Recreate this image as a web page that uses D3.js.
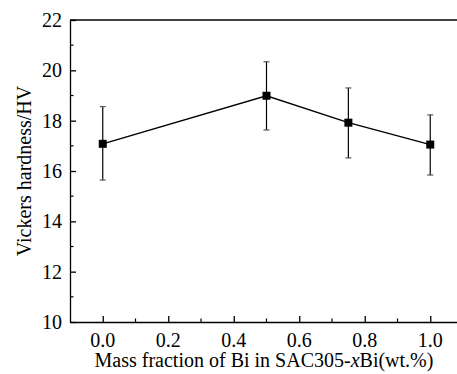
<!DOCTYPE html>
<html>
<head>
<meta charset="utf-8">
<script src="https://cdn.jsdelivr.net/npm/d3@7"></script>
<style>
body { margin: 0; background: #fff; }
svg { display: block; font-family: "Liberation Serif", serif; }
.title { font-size: 20px; fill: #000; }
.tlabel { font-size: 20px; fill: #000; }
</style>
</head>
<body>
<script>
var fraction = [0.0, 0.5, 0.75, 1.0];
var hardness = [17.08, 18.99, 17.92, 17.05];
var errHigh = [18.56, 20.34, 19.30, 18.23];
var errLow = [15.64, 17.63, 16.52, 15.84];
var xTicks = [0.0, 0.2, 0.4, 0.6, 0.8, 1.0];
var yTicks = [10, 12, 14, 16, 18, 20, 22];

var W = 457, H = 374,
    m = {left: 70, top: 20, right: -6, bottom: 52},
    w = W - m.left - m.right,
    h = H - m.top - m.bottom;

var x = d3.scaleLinear().domain([-0.1, 1.1]).range([0, w]),
    y = d3.scaleLinear().domain([10, 22]).range([h, 0]);

var svg = d3.select("body").append("svg")
    .attr("width", W)
    .attr("height", H);

var g = svg.append("g")
    .attr("transform", "translate(" + m.left + "," + m.top + ")");

// frame (top line)
g.append("line")
    .attr("x1", 0).attr("x2", w)
    .attr("y1", 0).attr("y2", 0)
    .attr("stroke", "#000").attr("stroke-width", 1.3);

// minor ticks
var xMinor = [0.1, 0.3, 0.5, 0.7, 0.9];
var yMinor = [11, 13, 15, 17, 19, 21];

g.selectAll("line.xminor").data(xMinor).enter().append("line")
    .attr("class", "xminor")
    .attr("x1", x).attr("x2", x)
    .attr("y1", h).attr("y2", h - 3.5)
    .attr("stroke", "#000").attr("stroke-width", 1.2);

g.selectAll("line.yminor").data(yMinor).enter().append("line")
    .attr("class", "yminor")
    .attr("y1", y).attr("y2", y)
    .attr("x1", 0).attr("x2", 3.5)
    .attr("stroke", "#000").attr("stroke-width", 1.2);

var xAxis = g.append("g")
    .attr("transform", "translate(0," + h + ")")
    .call(d3.axisBottom(x).tickValues(xTicks).tickFormat("")
      .tickSizeInner(-6).tickSizeOuter(0));

var yAxis = g.append("g")
    .call(d3.axisLeft(y).tickValues(yTicks).tickFormat("")
      .tickSizeInner(-6).tickSizeOuter(0));

[xAxis, yAxis].forEach(function(a) {
  a.selectAll("path, line").attr("stroke", "#000").attr("stroke-width", 1.3);
  a.selectAll("text").remove();
});

// tick labels
var fx = d3.format(".1f");
g.selectAll("text.xl").data(xTicks).enter().append("text")
    .attr("class", "tlabel xl")
    .attr("x", x)
    .attr("y", h + 25)
    .attr("text-anchor", "middle")
    .text(fx);

g.selectAll("text.yl").data(yTicks).enter().append("text")
    .attr("class", "tlabel yl")
    .attr("x", -8)
    .attr("y", y)
    .attr("dy", "0.35em")
    .attr("text-anchor", "end")
    .text(function(d) { return d; });

// error bars
var pts = fraction.map(function(f, i) {
  return {x: f, y: hardness[i], hi: errHigh[i], lo: errLow[i]};
});

g.selectAll("line.err").data(pts).enter().append("line")
    .attr("class", "err")
    .attr("x1", function(d) { return x(d.x); })
    .attr("x2", function(d) { return x(d.x); })
    .attr("y1", function(d) { return y(d.hi); })
    .attr("y2", function(d) { return y(d.lo); })
    .attr("stroke", "#000").attr("stroke-width", 1.2);

["hi", "lo"].forEach(function(k) {
  g.selectAll("line.cap" + k).data(pts).enter().append("line")
      .attr("class", "cap" + k)
      .attr("x1", function(d) { return x(d.x) - 3; })
      .attr("x2", function(d) { return x(d.x) + 3; })
      .attr("y1", function(d) { return y(d[k]); })
      .attr("y2", function(d) { return y(d[k]); })
      .attr("stroke", "#555").attr("stroke-width", 1.2);
});

g.append("path")
    .datum(pts)
    .attr("fill", "none")
    .attr("stroke", "#000")
    .attr("stroke-width", 1.4)
    .attr("d", d3.line()
      .x(function(d) { return x(d.x); })
      .y(function(d) { return y(d.y); }));

g.selectAll("rect.pt").data(pts).enter().append("rect")
    .attr("class", "pt")
    .attr("x", function(d) { return x(d.x) - 4; })
    .attr("y", function(d) { return y(d.y) - 4; })
    .attr("width", 8).attr("height", 8)
    .attr("fill", "#000");

// axis titles
var xt = svg.append("text")
    .attr("class", "title")
    .attr("x", 264)
    .attr("y", 367)
    .attr("text-anchor", "middle");
xt.append("tspan").text("Mass fraction of Bi in SAC305-");
xt.append("tspan").attr("font-style", "italic").text("x");
xt.append("tspan").text("Bi(wt.%)");

svg.append("text")
    .attr("class", "title")
    .attr("transform", "translate(31," + (m.top + h / 2) + ") rotate(-90)")
    .attr("text-anchor", "middle")
    .text("Vickers hardness/HV");
</script>
</body>
</html>
